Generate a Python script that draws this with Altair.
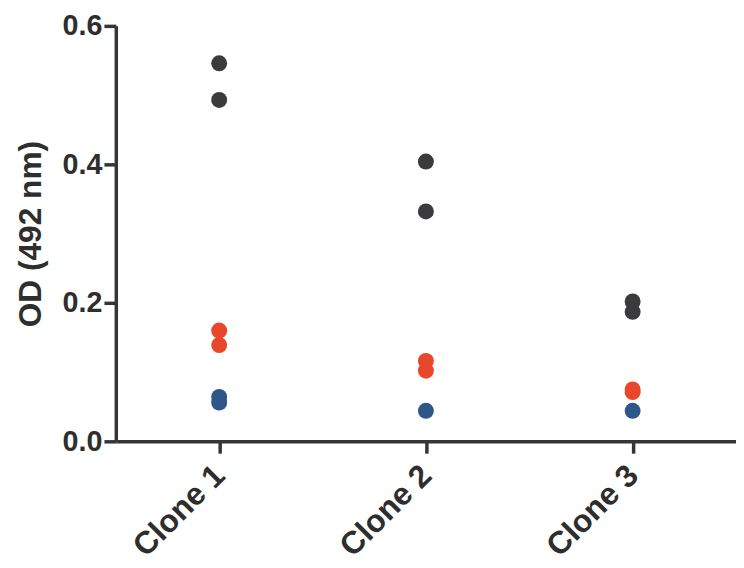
import altair as alt
import pandas as pd

clones = ["Clone 1", "Clone 2", "Clone 3"]
groups = ["Group A", "Group B", "Group C"]
colors = ["#3b3b3d", "#e9472b", "#2e5789"]

group_a = [[0.546, 0.493], [0.404, 0.332], [0.202, 0.187]]
group_b = [[0.160, 0.139], [0.116, 0.102], [0.075, 0.071]]
group_c = [[0.064, 0.056], [0.044], [0.044]]

rows = []
for gname, vals in zip(groups, [group_a, group_b, group_c]):
    for clone, vs in zip(clones, vals):
        for v in vs:
            rows.append({"clone": clone, "od": v, "group": gname})
df = pd.DataFrame(rows)

FONT = "Liberation Sans"
AX = "#353535"

chart = alt.Chart(df).mark_circle(size=260, opacity=1).encode(
    x=alt.X(
        "clone:N",
        sort=clones,
        scale=alt.Scale(type="point", padding=0.5),
        axis=alt.Axis(
            title=None,
            labelAngle=-45,
            labelAlign="right",
            labelBaseline="middle",
            labelPadding=17,
            labelFont=FONT,
            labelFontSize=32,
            labelFontWeight="bold",
            labelColor="#2e2e2e",
            domainColor=AX,
            domainWidth=3.5,
            tickColor=AX,
            tickWidth=3.5,
            tickSize=12,
            grid=False,
        ),
    ),
    y=alt.Y(
        "od:Q",
        scale=alt.Scale(domain=[0, 0.6], nice=False, zero=True),
        axis=alt.Axis(
            title="OD (492 nm)",
            values=[0, 0.2, 0.4, 0.6],
            format=".1f",
            grid=False,
            labelFont=FONT,
            labelFontSize=29,
            labelFontWeight="bold",
            labelColor="#2e2e2e",
            labelPadding=2,
            titleFont=FONT,
            titleFontSize=32,
            titleFontWeight="bold",
            titleColor="#2e2e2e",
            titlePadding=15,
            domainColor=AX,
            domainWidth=3.5,
            tickColor=AX,
            tickWidth=3.5,
            tickSize=12,
        ),
    ),
    color=alt.Color("group:N", scale=alt.Scale(domain=groups, range=colors), legend=None),
    order=alt.Order("group:N"),
).properties(
    width=627,
    height=420,
    padding={"left": 109, "top": 15, "right": 0, "bottom": 124},
    autosize=alt.AutoSizeParams(type="none"),
).configure_view(stroke=None)

chart.save("out.html", embed_options={"renderer": "svg", "actions": False})
